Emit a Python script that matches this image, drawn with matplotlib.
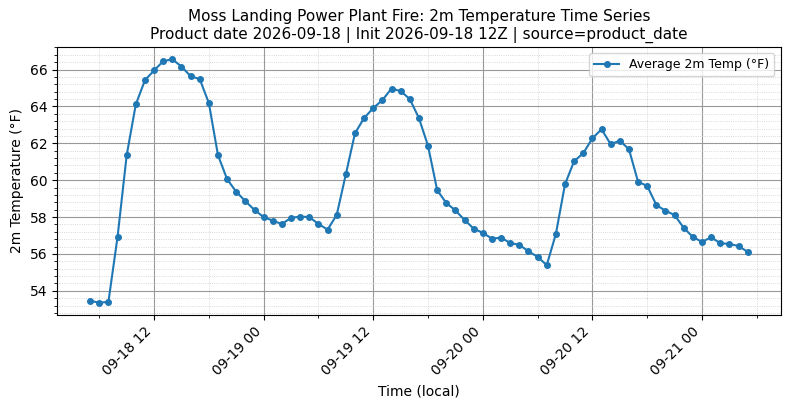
"""Moss Landing 2m temperature time series (hourly, local time)."""

import matplotlib
matplotlib.use("Agg")
import matplotlib.dates as mdates
import matplotlib.pyplot as plt
import numpy as np
import pandas as pd
from matplotlib.ticker import AutoMinorLocator, MultipleLocator

start_time = "2026-09-18 05:00"
n_hours = 73

temps_day1 = [53.46, 53.35, 53.40, 56.92, 61.35, 64.11, 65.42, 65.95, 66.45, 66.56,
              66.16, 65.64, 65.48, 64.18, 61.35, 60.05, 59.37, 58.86, 58.38, 58.00,
              57.80, 57.62]
temps_day2 = [57.96, 58.02, 58.00, 57.62, 57.32, 58.11, 60.32, 62.54, 63.37, 63.91,
              64.34, 64.97, 64.83, 64.40, 63.37, 61.86, 59.46, 58.76, 58.36, 57.84,
              57.37, 57.14]
temps_day3 = [56.83, 56.88, 56.59, 56.49, 56.14, 55.84, 55.39, 57.08, 59.78, 61.03,
              61.46, 62.27, 62.76, 61.95, 62.14, 61.68, 59.91, 59.69, 58.65, 58.34,
              58.11, 57.41, 56.92, 56.65, 56.90, 56.58, 56.54, 56.43, 56.11]

title = ("Moss Landing Power Plant Fire: 2m Temperature Time Series\n"
         "Product date 2026-09-18 | Init 2026-09-18 12Z | source=product_date")


def main() -> None:
    times = pd.date_range(start_time, periods=n_hours, freq="h")
    temps = np.array(temps_day1 + temps_day2 + temps_day3)

    fig, ax = plt.subplots(figsize=(7.9, 4.09), dpi=100)
    ax.plot(times, temps, marker="o", markersize=4, linewidth=1.5,
            color="#1f77b4", label="Average 2m Temp (°F)")

    ax.xaxis.set_major_locator(mdates.HourLocator(byhour=[0, 12]))
    ax.xaxis.set_minor_locator(mdates.HourLocator(byhour=[6, 18]))
    ax.xaxis.set_major_formatter(mdates.DateFormatter("%m-%d %H"))
    ax.yaxis.set_major_locator(MultipleLocator(2))
    ax.yaxis.set_minor_locator(AutoMinorLocator(5))

    ax.grid(which="major", color="#999999", linewidth=0.8)
    ax.grid(which="minor", color="#cccccc", linestyle=":", linewidth=0.6)

    plt.setp(ax.get_xticklabels(), rotation=45, ha="right")
    ax.set_xlabel("Time (local)")
    ax.set_ylabel("2m Temperature (°F)")
    ax.set_title(title, fontsize=11)
    ax.legend(loc="upper right", fontsize=9)

    fig.subplots_adjust(left=0.0725, right=0.988, top=0.885, bottom=0.23)
    fig.savefig("out.png", dpi=100)
    plt.close(fig)


if __name__ == "__main__":
    main()
